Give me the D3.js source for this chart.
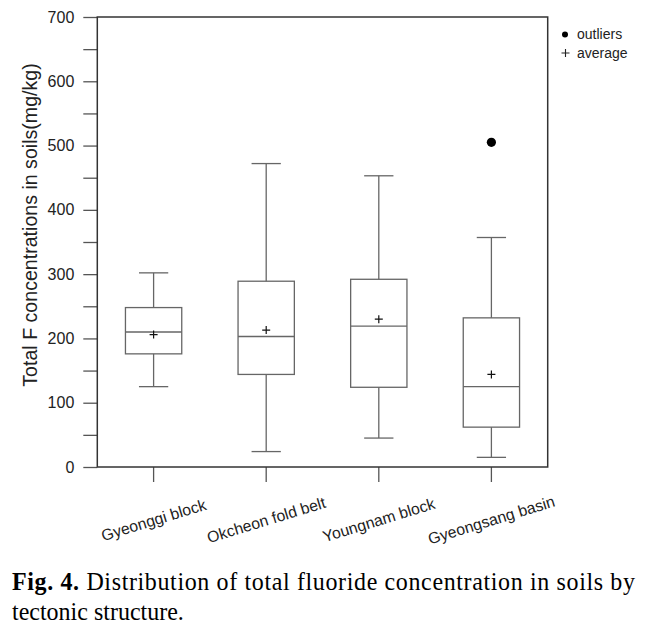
<!DOCTYPE html>
<html>
<head>
<meta charset="utf-8">
<script src="https://cdn.jsdelivr.net/npm/d3@7"></script>
<style>
  body { margin: 0; background: #fff; }
  svg { display: block; }
  .sans { font-family: Arial, 'Liberation Sans', sans-serif; }
  .serif { font-family: 'Times New Roman', 'Liberation Serif', serif; }
</style>
</head>
<body>
<svg id="chart"></svg>
<script>
// Box plot values (mg/kg)
const categories = ['Gyeonggi block', 'Okcheon fold belt', 'Youngnam block', 'Gyeongsang basin'];
const whiskerLow = [125, 24, 45, 15];
const q1Values = [176, 144, 124, 62];
const medianValues = [210, 203, 219, 125];
const q3Values = [248, 289, 292, 232];
const whiskerHigh = [302, 472, 453, 357];
const meanValues = [206, 213, 230, 144];
const outlierValues = [[], [], [], [505]];
const yTicks = d3.range(0, 701, 50);

const svgWidth = 657;
const svgHeight = 632;
const plot = { left: 97.3, right: 547.7, top: 17, bottom: 467 };

const svg = d3.select('#chart')
  .attr('width', svgWidth)
  .attr('height', svgHeight);

const boxes = categories.map((c, i) => ({
  cat: c, lo: whiskerLow[i], q1: q1Values[i], med: medianValues[i],
  q3: q3Values[i], hi: whiskerHigh[i], mean: meanValues[i], out: outlierValues[i]
}));

// scales
const xScale = d3.scaleBand()
  .domain(categories)
  .range([plot.left, plot.right])
  .padding(0);

const yScale = d3.scaleLinear()
  .domain([0, 700])
  .range([plot.bottom, plot.top]);

const axisColor = '#333';
const tickColor = '#555';
const boxColor = '#666';

// y axis
const yAxisGroup = svg.append('g')
  .attr('transform', 'translate(' + plot.left + ',0)')
  .call(d3.axisLeft(yScale)
    .tickValues(yTicks)
    .tickSize(14)
    .tickPadding(9)
    .tickFormat(d => d % 100 === 0 ? d : ''));

yAxisGroup.attr('font-family', null).attr('font-size', null);
yAxisGroup.select('.domain').remove();
yAxisGroup.selectAll('line').attr('stroke', tickColor).attr('stroke-width', 1.3);
yAxisGroup.selectAll('text')
  .attr('class', 'sans')
  .attr('fill', '#222')
  .style('font-size', '16px');

// x axis ticks
const xAxisGroup = svg.append('g')
  .attr('transform', 'translate(0,' + plot.bottom + ')')
  .call(d3.axisBottom(xScale).tickSize(15).tickFormat(''));
xAxisGroup.select('.domain').remove();
xAxisGroup.selectAll('line').attr('stroke', tickColor).attr('stroke-width', 1.3);

// slanted category labels
svg.append('g').selectAll('text')
  .data(categories)
  .enter()
  .append('text')
  .attr('class', 'sans')
  .attr('transform', d => 'translate(' + (xScale(d) + xScale.bandwidth() / 2) + ',520) rotate(-17)')
  .attr('text-anchor', 'middle')
  .attr('dy', '0.35em')
  .attr('fill', '#222')
  .style('font-size', '15.8px')
  .text(d => d);

// frame
svg.append('rect')
  .attr('x', plot.left)
  .attr('y', plot.top)
  .attr('width', plot.right - plot.left)
  .attr('height', plot.bottom - plot.top)
  .attr('fill', 'none')
  .attr('stroke', axisColor)
  .attr('stroke-width', 1.5);

// boxes
const boxW = xScale.bandwidth() * 0.5;
const capW = xScale.bandwidth() * 0.26;
const g = svg.append('g').selectAll('g')
  .data(boxes)
  .enter()
  .append('g')
  .attr('transform', d => 'translate(' + (xScale(d.cat) + xScale.bandwidth() / 2) + ',0)');

g.append('line') // upper whisker
  .attr('x1', 0).attr('x2', 0)
  .attr('y1', d => yScale(d.q3)).attr('y2', d => yScale(d.hi))
  .attr('stroke', boxColor).attr('stroke-width', 1.3);
g.append('line') // lower whisker
  .attr('x1', 0).attr('x2', 0)
  .attr('y1', d => yScale(d.q1)).attr('y2', d => yScale(d.lo))
  .attr('stroke', boxColor).attr('stroke-width', 1.3);
g.append('line') // caps
  .attr('x1', -capW / 2).attr('x2', capW / 2)
  .attr('y1', d => yScale(d.hi)).attr('y2', d => yScale(d.hi))
  .attr('stroke', boxColor).attr('stroke-width', 1.3);
g.append('line')
  .attr('x1', -capW / 2).attr('x2', capW / 2)
  .attr('y1', d => yScale(d.lo)).attr('y2', d => yScale(d.lo))
  .attr('stroke', boxColor).attr('stroke-width', 1.3);

g.append('rect')
  .attr('x', -boxW / 2)
  .attr('y', d => yScale(d.q3))
  .attr('width', boxW)
  .attr('height', d => yScale(d.q1) - yScale(d.q3))
  .attr('fill', 'none')
  .attr('stroke', boxColor)
  .attr('stroke-width', 1.3);

g.append('line') // median
  .attr('x1', -boxW / 2).attr('x2', boxW / 2)
  .attr('y1', d => yScale(d.med)).attr('y2', d => yScale(d.med))
  .attr('stroke', boxColor).attr('stroke-width', 1.3);

// mean crosses
g.append('path')
  .attr('d', d => {
    const y = yScale(d.mean);
    return 'M-4,' + y + 'H4M0,' + (y - 4) + 'V' + (y + 4);
  })
  .attr('stroke', '#111')
  .attr('stroke-width', 1.2)
  .attr('fill', 'none');

// outliers
g.selectAll('circle')
  .data(d => d.out)
  .enter()
  .append('circle')
  .attr('cx', 0)
  .attr('cy', d => yScale(d))
  .attr('r', 4.6)
  .attr('fill', '#000');

// y axis title
svg.append('text')
  .attr('class', 'sans')
  .attr('transform', 'translate(37,225) rotate(-90)')
  .attr('text-anchor', 'middle')
  .attr('fill', '#222')
  .style('font-size', '19.6px')
  .text('Total F concentrations in soils(mg/kg)');

// legend
const legend = svg.append('g')
  .attr('class', 'sans')
  .style('font-size', '14px')
  .attr('fill', '#222');
legend.append('circle').attr('cx', 565).attr('cy', 34.5).attr('r', 3).attr('fill', '#000');
legend.append('text').attr('x', 577).attr('y', 39).text('outliers');
legend.append('path')
  .attr('d', 'M561.5,53H569.5M565.5,49V57')
  .attr('stroke', '#222').attr('stroke-width', 1.1);
legend.append('text').attr('x', 577).attr('y', 58).text('average');

// caption (slightly condensed, taller serif like the print)
const caption = svg.append('g')
  .attr('class', 'serif')
  .attr('transform', 'translate(12,0) scale(0.93,1)')
  .style('font-size', '25.8px')
  .attr('fill', '#000');
const line1 = caption.append('text')
  .attr('x', 0)
  .attr('y', 590)
  .attr('textLength', 623 / 0.93)
  .attr('lengthAdjust', 'spacing');
line1.append('tspan').attr('font-weight', 'bold').text('Fig. 4.');
line1.append('tspan').text(' Distribution of total fluoride concentration in soils by');
caption.append('text')
  .attr('x', 0)
  .attr('y', 620)
  .text('tectonic structure.');
</script>
</body>
</html>
